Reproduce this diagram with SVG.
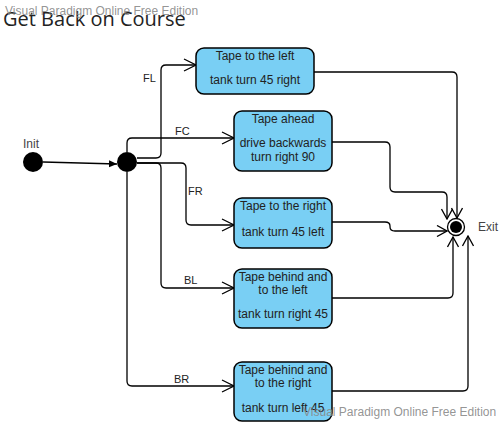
<svg xmlns="http://www.w3.org/2000/svg" width="501" height="422" viewBox="0 0 501 422">
<style>
.box{fill:#79cff4;stroke:#000;stroke-width:1.5}
.t{font-family:"Liberation Sans",Arial,sans-serif;font-size:12px;fill:#222;text-anchor:middle}
.lbl{font-family:"Liberation Sans",Arial,sans-serif;font-size:11px;fill:#222}
.c{fill:none;stroke:#000;stroke-width:1.3}
.wm{font-family:"Liberation Sans",Arial,sans-serif;font-size:12px;fill:#888;fill-opacity:0.9}
</style>
<defs>
<marker id="open" viewBox="0 0 14 14" refX="13" refY="7" markerWidth="14" markerHeight="14" markerUnits="userSpaceOnUse" orient="auto">
<path d="M1,1 L13,7 L1,13" fill="none" stroke="#000" stroke-width="1.3"/>
</marker>
<marker id="open2" viewBox="0 0 12 12" refX="11" refY="6" markerWidth="12" markerHeight="12" markerUnits="userSpaceOnUse" orient="auto">
<path d="M1,0.5 L11,6 L1,11.5" fill="none" stroke="#000" stroke-width="1.3"/>
</marker>
<marker id="fill" viewBox="0 0 8 8" refX="8" refY="4" markerWidth="8" markerHeight="8" markerUnits="userSpaceOnUse" orient="auto">
<path d="M0,0.5 L8,4 L0,7.5 z" fill="#000"/>
</marker>
</defs>
<rect width="501" height="422" fill="#fff"/>
<text x="3" y="26" font-family="Open Sans, sans-serif" font-size="20" fill="#222">Get Back on Course</text>
<text class="wm" x="5" y="15">Visual Paradigm Online Free Edition</text>

<g id="connectors">
<path class="c" d="M43,162 L117,164" marker-end="url(#fill)"/>
<path class="c" d="M137,158 H156 Q161,158 161,153 V70 Q161,65 166,65 H196" marker-end="url(#open)"/>
<text class="lbl" x="143" y="82">FL</text>
<path class="c" d="M127,152 V143 Q127,138 132,138 H234" marker-end="url(#open)"/>
<text class="lbl" x="175" y="135">FC</text>
<path class="c" d="M137,163 H181 Q186,163 186,168 V220 Q186,225 191,225 H234" marker-end="url(#open)"/>
<text class="lbl" x="188" y="195">FR</text>
<path class="c" d="M137,163 H156 Q161,163 161,168 V283 Q161,288 166,288 H234" marker-end="url(#open)"/>
<text class="lbl" x="184" y="284">BL</text>
<path class="c" d="M127,172 V381 Q127,386 132,386 H234" marker-end="url(#open)"/>
<text class="lbl" x="174" y="383">BR</text>

<path class="c" d="M314,72 H452 Q457,72 457,77 V218" marker-end="url(#open2)"/>
<path class="c" d="M332,142 H385 Q390,142 390,147 V187 Q390,192 395,192 H442 Q447,192 447,197 V219" marker-end="url(#open2)"/>
<path class="c" d="M332,222 H385 Q390,222 390,226 V227 Q390,231 395,231 H447" marker-end="url(#open2)"/>
<path class="c" d="M332,298 H448 Q453,298 453,293 V237" marker-end="url(#open2)"/>
<path class="c" d="M332,391 H463 Q468,391 468,386 V236" marker-end="url(#open2)"/>
</g>

<g id="init">
<circle cx="33" cy="162" r="10" fill="#000"/>
<text x="23" y="148" font-family="Liberation Sans, Arial, sans-serif" font-size="12" fill="#444">Init</text>
</g>
<g id="junction">
<circle cx="127" cy="162" r="10" fill="#000"/>
</g>

<g id="s1">
<rect class="box" x="196" y="48" width="118" height="46" rx="8"/>
<text class="t" x="255" y="60">Tape to the left</text>
<text class="t" x="255" y="84">tank turn 45 right</text>
</g>
<g id="s2">
<rect class="box" x="234" y="111" width="98" height="60" rx="8"/>
<text class="t" x="283" y="123">Tape ahead</text>
<text class="t" x="283" y="147">drive backwards</text>
<text class="t" x="283" y="161">turn right 90</text>
</g>
<g id="s3">
<rect class="box" x="234" y="198" width="98" height="50" rx="8"/>
<text class="t" x="283" y="210">Tape to the right</text>
<text class="t" x="283" y="236">tank turn 45 left</text>
</g>
<g id="s4">
<rect class="box" x="234" y="269" width="98" height="59" rx="8"/>
<text class="t" x="283" y="281">Tape behind and</text>
<text class="t" x="283" y="294">to the left</text>
<text class="t" x="283" y="318">tank turn right 45</text>
</g>
<g id="s5">
<rect class="box" x="234" y="362" width="98" height="59" rx="8"/>
<text class="t" x="283" y="374">Tape behind and</text>
<text class="t" x="283" y="387">to the right</text>
<text class="t" x="283" y="412">tank turn left 45</text>
</g>

<g id="exit">
<circle cx="456" cy="227" r="8.5" fill="#fff" stroke="#000" stroke-width="1.3"/>
<circle cx="456" cy="227" r="6" fill="#000"/>
<text x="478" y="231" font-family="Liberation Sans, Arial, sans-serif" font-size="12" fill="#444">Exit</text>
</g>

<text class="wm" x="303" y="416">Visual Paradigm Online Free Edition</text>
</svg>
